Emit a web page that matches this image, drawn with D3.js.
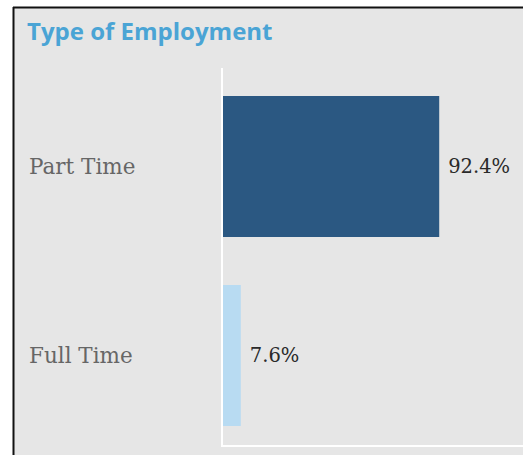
<!DOCTYPE html>
<html>
<head>
<meta charset="utf-8">
<script src="https://cdn.jsdelivr.net/npm/d3@7"></script>
<style>
  html, body { margin: 0; padding: 0; background: #ffffff; }
  svg { display: block; }
</style>
</head>
<body>
<svg id="chart" width="523" height="455"></svg>
<script>
// Employment type shares (percent)
const categories = ["Part Time", "Full Time"];
const shares = [92.4, 7.6];
const barColors = ["#2b5882", "#b8dbf2"];
const chartTitle = "Type of Employment";

const svg = d3.select("#chart");
const W = 523, H = 455;

// panel background with dark frame on top and left
svg.append("rect").attr("x", 14).attr("y", 8).attr("width", W - 14).attr("height", H - 8)
  .attr("fill", "#e6e6e6");
svg.append("line").attr("x1", 13.5).attr("x2", 13.5).attr("y1", 7).attr("y2", H)
  .attr("stroke", "#111").attr("stroke-width", 2);
svg.append("line").attr("x1", 13).attr("x2", W).attr("y1", 7.5).attr("y2", 7.5)
  .attr("stroke", "#111").attr("stroke-width", 2);

svg.append("text").attr("x", 27).attr("y", 40)
  .attr("font-family", "'Open Sans', sans-serif").attr("font-weight", 700)
  .attr("font-size", 24).attr("fill", "#4aa4d5").text(chartTitle);

const x = d3.scaleLinear().domain([0, 100]).range([223, 457]);
const y = d3.scaleBand().domain(categories).range([72, 450])
  .paddingInner(0.254).paddingOuter(0.127);

// axis lines in white
svg.append("line").attr("x1", 222).attr("x2", 222).attr("y1", 68).attr("y2", 447)
  .attr("stroke", "#ffffff").attr("stroke-width", 2);
svg.append("line").attr("x1", 222).attr("x2", W).attr("y1", 446).attr("y2", 446)
  .attr("stroke", "#ffffff").attr("stroke-width", 2);

const rows = categories.map((c, i) => ({ cat: c, v: shares[i], color: barColors[i] }));

svg.selectAll("rect.bar").data(rows).join("rect").attr("class", "bar")
  .attr("x", x(0)).attr("y", d => y(d.cat))
  .attr("width", d => x(d.v) - x(0)).attr("height", y.bandwidth())
  .attr("fill", d => d.color);

svg.selectAll("text.val").data(rows).join("text").attr("class", "val")
  .attr("x", d => x(d.v) + 9).attr("y", d => y(d.cat) + y.bandwidth() / 2)
  .attr("dy", "0.35em")
  .attr("font-family", "'DejaVu Serif', serif").attr("font-size", 19.5).attr("fill", "#2a2a2a")
  .text(d => d.v.toFixed(1) + "%");

svg.selectAll("text.cat").data(rows).join("text").attr("class", "cat")
  .attr("x", 29).attr("y", d => y(d.cat) + y.bandwidth() / 2)
  .attr("dy", "0.35em")
  .attr("font-family", "'DejaVu Serif', serif").attr("font-size", 21.5).attr("fill", "#666")
  .text(d => d.cat);
</script>
</body>
</html>
